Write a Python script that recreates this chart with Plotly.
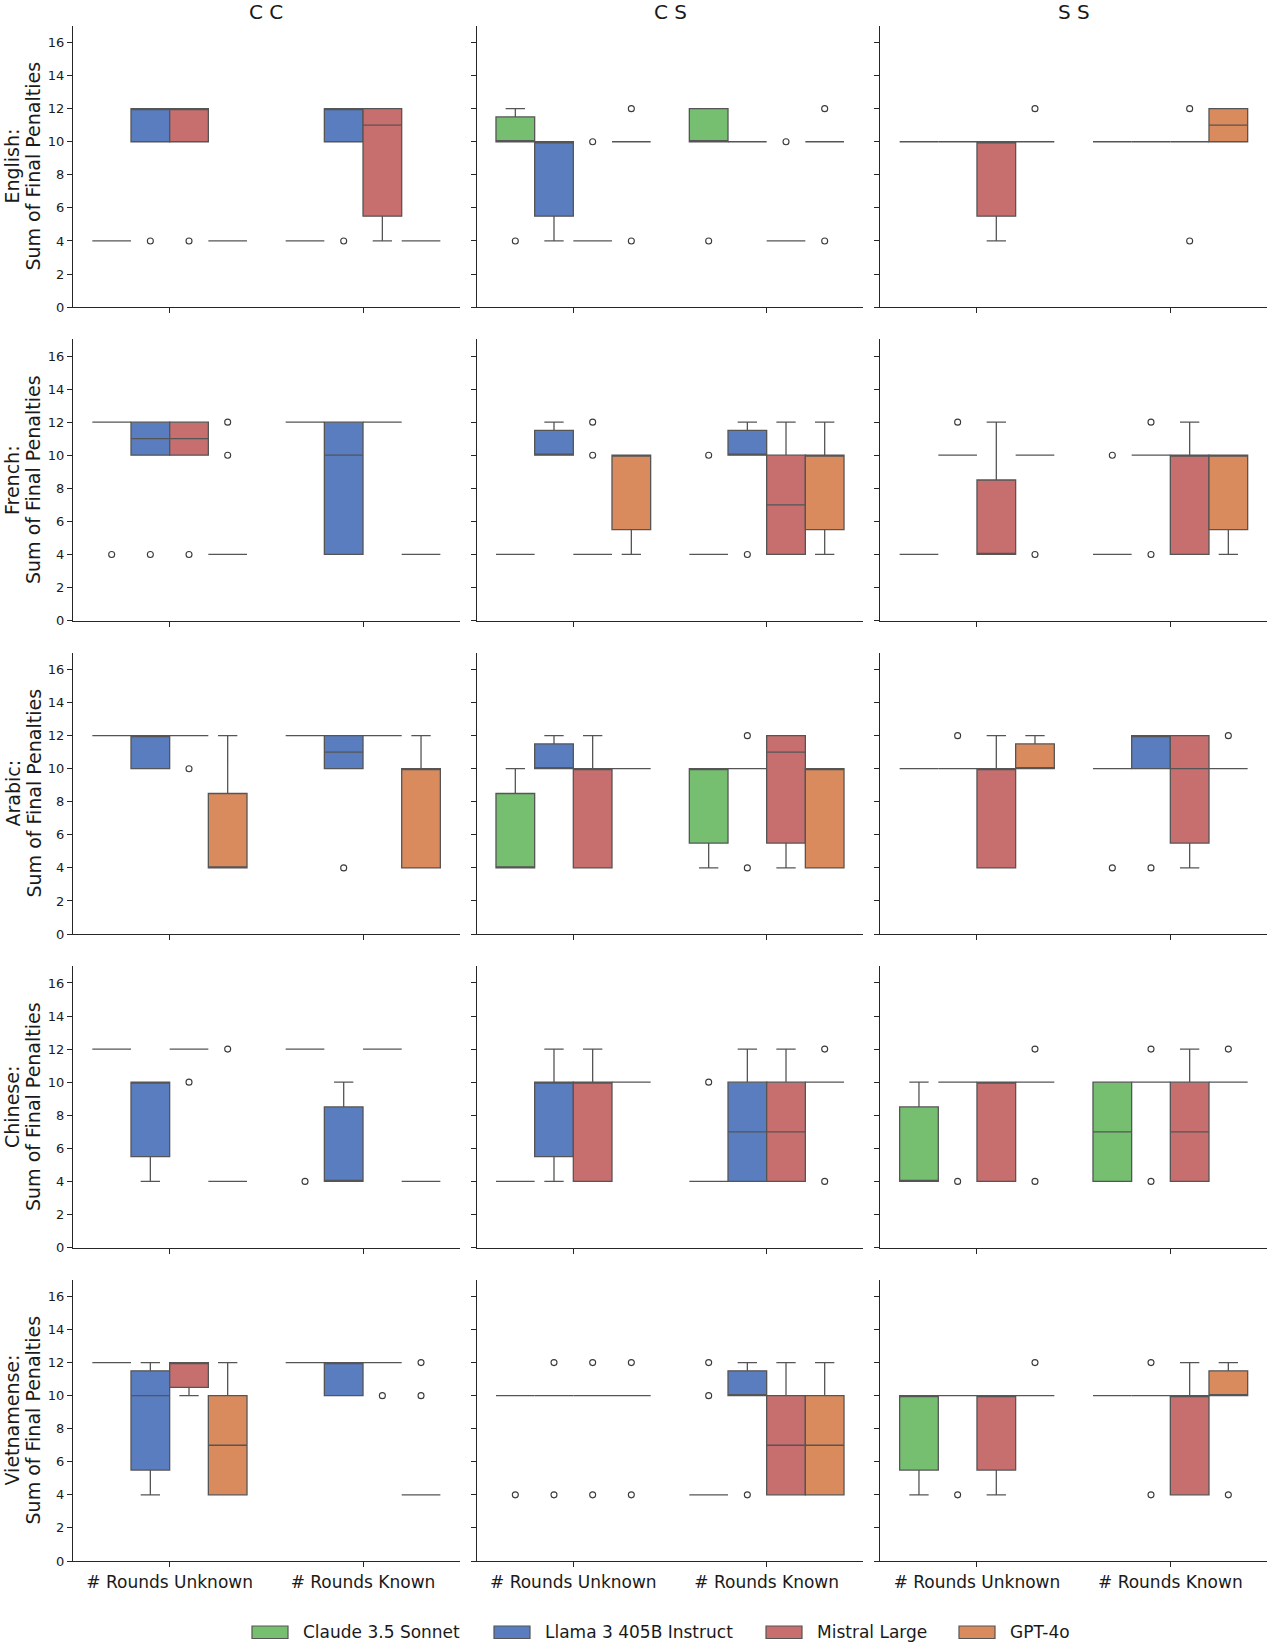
import plotly.graph_objects as go
from plotly.subplots import make_subplots

MODELS = ["Claude 3.5 Sonnet", "Llama 3 405B Instruct", "Mistral Large", "GPT-4o"]
COLORS = ["#76bf71", "#597dbf", "#c76e6e", "#d98b5e"]
CONDITIONS = ["C C", "C S", "S S"]
ROUNDS = ["# Rounds Unknown", "# Rounds Known"]
LANGUAGES = ["English", "French", "Arabic", "Chinese", "Vietnamense"]
YTICKS = [0, 2, 4, 6, 8, 10, 12, 14, 16]

# one entry per box, ordered condition -> rounds -> model
# (q1, median, q3, lower whisker, upper whisker, outliers)
ENGLISH = [
    (4, 4, 4, 4, 4, []), (10, 12, 12, 10, 12, [4]), (10, 12, 12, 10, 12, [4]), (4, 4, 4, 4, 4, []),
    (4, 4, 4, 4, 4, []), (10, 12, 12, 10, 12, [4]), (5.5, 11, 12, 4, 12, []), (4, 4, 4, 4, 4, []),
    (10, 10, 11.5, 10, 12, [4]), (5.5, 10, 10, 4, 10, []), (4, 4, 4, 4, 4, [10]), (10, 10, 10, 10, 10, [12, 4]),
    (10, 10, 12, 10, 12, [4]), (10, 10, 10, 10, 10, []), (4, 4, 4, 4, 4, [10]), (10, 10, 10, 10, 10, [12, 4]),
    (10, 10, 10, 10, 10, []), (10, 10, 10, 10, 10, []), (5.5, 10, 10, 4, 10, []), (10, 10, 10, 10, 10, [12]),
    (10, 10, 10, 10, 10, []), (10, 10, 10, 10, 10, []), (10, 10, 10, 10, 10, [12, 4]), (10, 11, 12, 10, 12, []),
]
FRENCH = [
    (12, 12, 12, 12, 12, [4]), (10, 11, 12, 10, 12, [4]), (10, 11, 12, 10, 12, [4]), (4, 4, 4, 4, 4, [12, 10]),
    (12, 12, 12, 12, 12, []), (4, 10, 12, 4, 12, []), (12, 12, 12, 12, 12, []), (4, 4, 4, 4, 4, []),
    (4, 4, 4, 4, 4, []), (10, 10, 11.5, 10, 12, []), (4, 4, 4, 4, 4, [12, 10]), (5.5, 10, 10, 4, 10, []),
    (4, 4, 4, 4, 4, [10]), (10, 10, 11.5, 10, 12, [4]), (4, 7, 10, 4, 12, []), (5.5, 10, 10, 4, 12, []),
    (4, 4, 4, 4, 4, []), (10, 10, 10, 10, 10, [12]), (4, 4, 8.5, 4, 12, []), (10, 10, 10, 10, 10, [4]),
    (4, 4, 4, 4, 4, [10]), (10, 10, 10, 10, 10, [12, 4]), (4, 10, 10, 4, 12, []), (5.5, 10, 10, 4, 10, []),
]
ARABIC = [
    (12, 12, 12, 12, 12, []), (10, 12, 12, 10, 12, []), (12, 12, 12, 12, 12, [10]), (4, 4, 8.5, 4, 12, []),
    (12, 12, 12, 12, 12, []), (10, 11, 12, 10, 12, [4]), (12, 12, 12, 12, 12, []), (4, 10, 10, 4, 12, []),
    (4, 4, 8.5, 4, 10, []), (10, 10, 11.5, 10, 12, []), (4, 10, 10, 4, 12, []), (10, 10, 10, 10, 10, []),
    (5.5, 10, 10, 4, 10, []), (10, 10, 10, 10, 10, [12, 4]), (5.5, 11, 12, 4, 12, []), (4, 10, 10, 4, 10, []),
    (10, 10, 10, 10, 10, []), (10, 10, 10, 10, 10, [12]), (4, 10, 10, 4, 12, []), (10, 10, 11.5, 10, 12, []),
    (10, 10, 10, 10, 10, [4]), (10, 12, 12, 10, 12, [4]), (5.5, 10, 12, 4, 12, []), (10, 10, 10, 10, 10, [12]),
]
CHINESE = [
    (12, 12, 12, 12, 12, []), (5.5, 10, 10, 4, 10, []), (12, 12, 12, 12, 12, [10]), (4, 4, 4, 4, 4, [12]),
    (12, 12, 12, 12, 12, [4]), (4, 4, 8.5, 4, 10, []), (12, 12, 12, 12, 12, []), (4, 4, 4, 4, 4, []),
    (4, 4, 4, 4, 4, []), (5.5, 10, 10, 4, 12, []), (4, 10, 10, 4, 12, []), (10, 10, 10, 10, 10, []),
    (4, 4, 4, 4, 4, [10]), (4, 7, 10, 4, 12, []), (4, 7, 10, 4, 12, []), (10, 10, 10, 10, 10, [12, 4]),
    (4, 4, 8.5, 4, 10, []), (10, 10, 10, 10, 10, [4]), (4, 10, 10, 4, 10, []), (10, 10, 10, 10, 10, [12, 4]),
    (4, 7, 10, 4, 10, []), (10, 10, 10, 10, 10, [12, 4]), (4, 7, 10, 4, 12, []), (10, 10, 10, 10, 10, [12]),
]
VIETNAMESE = [
    (12, 12, 12, 12, 12, []), (5.5, 10, 11.5, 4, 12, []), (10.5, 12, 12, 10, 12, []), (4, 7, 10, 4, 12, []),
    (12, 12, 12, 12, 12, []), (10, 12, 12, 10, 12, []), (12, 12, 12, 12, 12, [10]), (4, 4, 4, 4, 4, [12, 10]),
    (10, 10, 10, 10, 10, [4]), (10, 10, 10, 10, 10, [12, 4]), (10, 10, 10, 10, 10, [12, 4]), (10, 10, 10, 10, 10, [12, 4]),
    (4, 4, 4, 4, 4, [12, 10]), (10, 10, 11.5, 10, 12, [4]), (4, 7, 10, 4, 12, []), (4, 7, 10, 4, 12, []),
    (5.5, 10, 10, 4, 10, []), (10, 10, 10, 10, 10, [4]), (5.5, 10, 10, 4, 10, []), (10, 10, 10, 10, 10, [12]),
    (10, 10, 10, 10, 10, []), (10, 10, 10, 10, 10, [12, 4]), (4, 10, 10, 4, 12, []), (10, 10, 11.5, 10, 12, [4]),
]
ALL_DATA = [ENGLISH, FRENCH, ARABIC, CHINESE, VIETNAMESE]

FONT = "DejaVu Sans"
EDGE = "#555555"
AXIS = "#262626"
BOX_W = 0.2

fig = make_subplots(rows=5, cols=3, horizontal_spacing=0.0142, vertical_spacing=0.0211)

for r, lang_data in enumerate(ALL_DATA):
    for c in range(3):
        for k in range(2):
            for m in range(4):
                q1, med, q3, lo, hi, fliers = lang_data[c * 8 + k * 4 + m]
                pos = k + (m - 1.5) * BOX_W
                fig.add_trace(go.Box(
                    x=[pos], q1=[q1], median=[med], q3=[q3],
                    lowerfence=[lo], upperfence=[hi],
                    width=BOX_W, whiskerwidth=0.5,
                    fillcolor=COLORS[m], line=dict(color=EDGE, width=1.3),
                    boxpoints=False, showlegend=False, hoverinfo="skip",
                ), row=r + 1, col=c + 1)
                if fliers:
                    fig.add_trace(go.Scatter(
                        x=[pos] * len(fliers), y=fliers, mode="markers",
                        marker=dict(symbol="circle-open", size=6, color="#3a3a3a",
                                    line=dict(width=1.1)),
                        showlegend=False, hoverinfo="skip",
                    ), row=r + 1, col=c + 1)

        fig.update_xaxes(
            range=[-0.5, 1.5], tickvals=[0, 1], ticktext=ROUNDS,
            showticklabels=(r == 4), showline=True, linecolor=AXIS, linewidth=1.2,
            ticks="outside", ticklen=5, tickwidth=1.2, tickcolor=AXIS,
            showgrid=False, zeroline=False, tickfont=dict(size=17, color="#1a1a1a"),
            row=r + 1, col=c + 1)
        fig.update_yaxes(
            range=[0, 17], tickvals=YTICKS, showticklabels=(c == 0),
            showline=True, linecolor=AXIS, linewidth=1.2,
            ticks="outside", ticklen=5, tickwidth=1.2, tickcolor=AXIS,
            showgrid=False, zeroline=False, tickfont=dict(size=13, color="#1a1a1a"),
            row=r + 1, col=c + 1)

annotations = []
# column titles
for c, name in enumerate(CONDITIONS):
    dom = fig.layout["xaxis%s" % ("" if c == 0 else c + 1)].domain
    annotations.append(dict(
        text=name, x=(dom[0] + dom[1]) / 2, y=1, xref="paper", yref="paper",
        xanchor="center", yanchor="middle", yshift=14, showarrow=False,
        font=dict(size=20, color="#1a1a1a")))
# row titles
for r, lang in enumerate(LANGUAGES):
    idx = r * 3 + 1
    dom = fig.layout["yaxis%s" % ("" if idx == 1 else idx)].domain
    yc = (dom[0] + dom[1]) / 2
    for txt, shift in [(lang + ":", -61), ("Sum of Final Penalties", -40)]:
        annotations.append(dict(
            text=txt, x=0, y=yc, xref="paper", yref="paper", textangle=-90,
            xanchor="center", yanchor="middle", xshift=shift, showarrow=False,
            font=dict(size=19, color="#1a1a1a")))

# legend drawn below the grid
plot_w = 1271 - 73 - 4
plot_h = 1645 - 26 - 84
legend_left = [252, 494, 766, 959]
shapes = []
for m, name in enumerate(MODELS):
    x0 = (legend_left[m] - 73) / plot_w
    x1 = (legend_left[m] + 36 - 73) / plot_w
    shapes.append(dict(
        type="rect", xref="paper", yref="paper", x0=x0, x1=x1,
        y0=(1561 - 1638.5) / plot_h, y1=(1561 - 1626) / plot_h,
        fillcolor=COLORS[m], line=dict(color=EDGE, width=1.2)))
    annotations.append(dict(
        text=name, x=(legend_left[m] + 49 - 73) / plot_w, y=(1561 - 1632) / plot_h,
        xref="paper", yref="paper", xanchor="left", yanchor="middle",
        showarrow=False, font=dict(size=17, color="#1a1a1a")))

fig.update_layout(
    width=1271, height=1645,
    margin=dict(l=73, r=4, t=26, b=84),
    paper_bgcolor="white", plot_bgcolor="white",
    font=dict(family=FONT, color="#1a1a1a"),
    boxmode="overlay",
    annotations=annotations, shapes=shapes,
)

# page body margin would push the figure off the bottom edge
fig.write_html("out.html", config={"displayModeBar": False},
               post_script="document.body.style.margin='0';")
